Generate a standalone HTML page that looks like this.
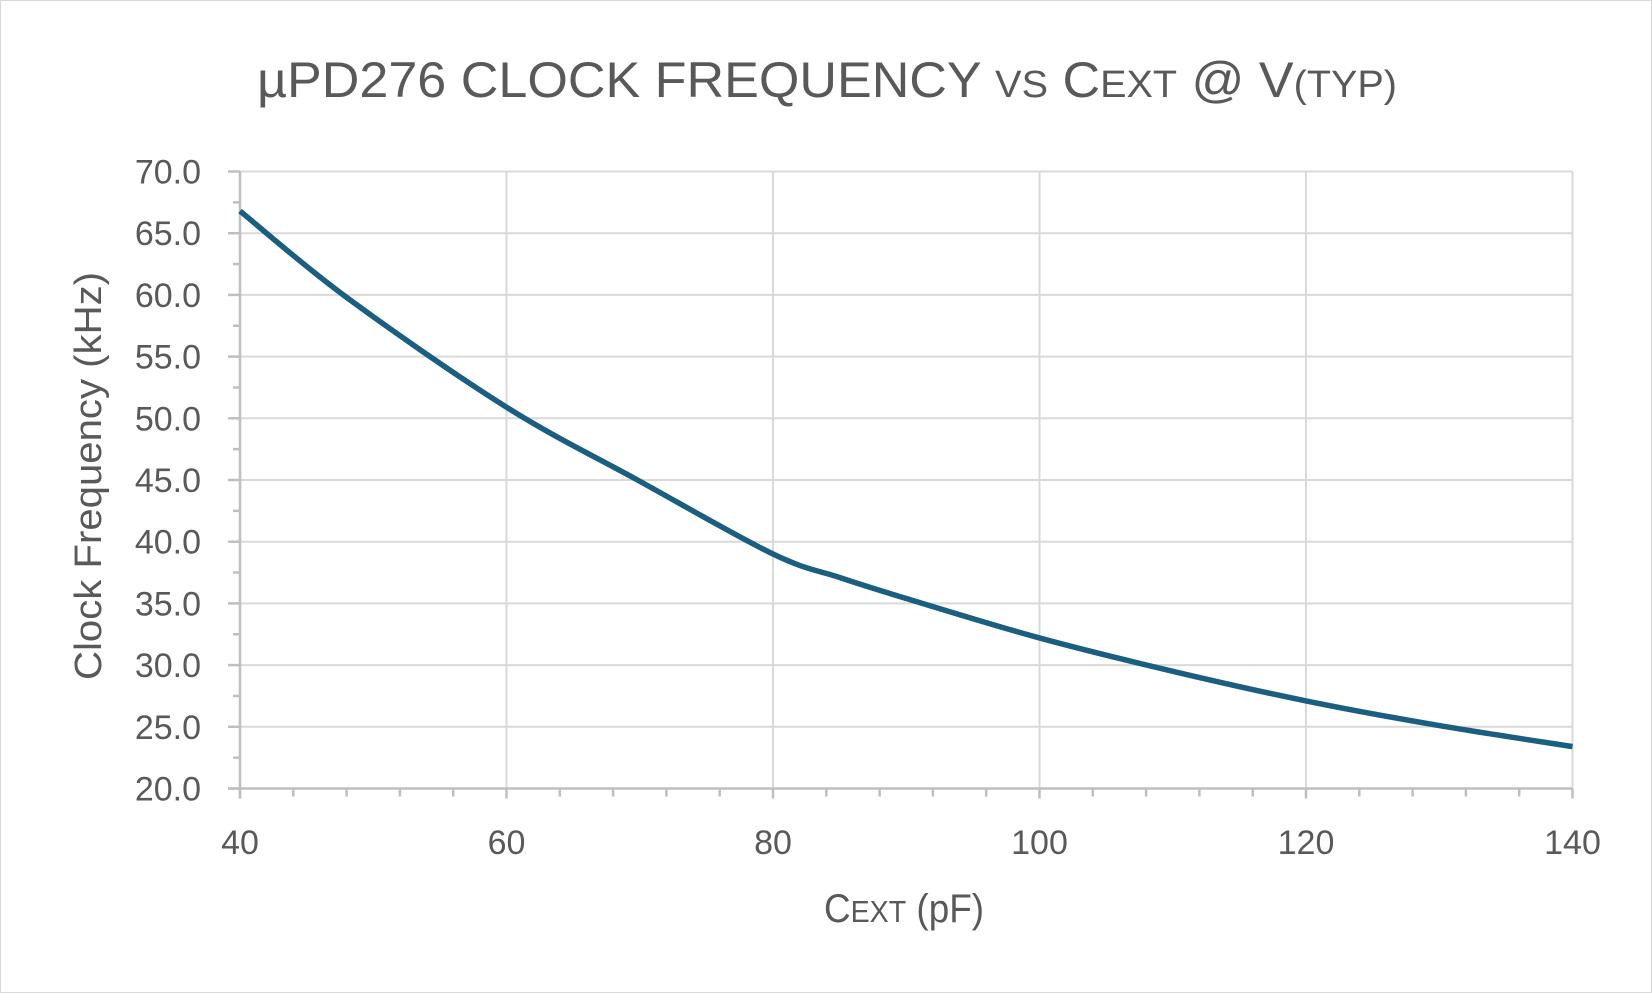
<!DOCTYPE html>
<html><head><meta charset="utf-8"><style>
html,body{margin:0;padding:0;background:#fff}
svg{display:block}
text{font-family:"Liberation Sans",sans-serif;fill:#595959}
</style></head><body>
<svg id="s" width="1652" height="993" viewBox="0 0 1652 993" xmlns="http://www.w3.org/2000/svg">
<rect x="0.5" y="0.5" width="1651" height="992" fill="#fff" stroke="#d9d9d9"/>
<g id="grid" stroke="#d9d9d9" stroke-width="2"></g>
<g id="axes" stroke="#bfbfbf" stroke-width="2.5"></g>
<g id="lbl" font-size="34"></g>
<path id="curve" fill="none" stroke="#1a5e80" stroke-width="5.5" stroke-linecap="butt" stroke-linejoin="round"/>
<text x="827" y="97" font-size="50" text-anchor="middle" textLength="1140" lengthAdjust="spacingAndGlyphs">µPD276 CLOCK FREQUENCY <tspan font-size="38">VS</tspan> C<tspan font-size="38">EXT</tspan> @ V<tspan font-size="38">(TYP)</tspan></text>
<text x="904" y="922" font-size="40" text-anchor="middle" textLength="160" lengthAdjust="spacingAndGlyphs">C<tspan font-size="31">EXT</tspan> (pF)</text>
<text transform="translate(101,476) rotate(-90)" font-size="38" text-anchor="middle" textLength="408" lengthAdjust="spacingAndGlyphs">Clock Frequency (kHz)</text>
</svg>
<script>
const NS="http://www.w3.org/2000/svg";
const X=v=>240+(v-40)*13.325, Y=v=>788.5-(v-20)*12.34;
function el(p,t,a,txt){const e=document.createElementNS(NS,t);for(const k in a)e.setAttribute(k,a[k]);if(txt!==undefined)e.textContent=txt;document.getElementById(p).appendChild(e);}
for(let v=25;v<=70;v+=5){el('grid','line',{x1:X(40),x2:X(140),y1:Y(v),y2:Y(v)});}
for(let c=60;c<=140;c+=20){el('grid','line',{x1:X(c),x2:X(c),y1:Y(20),y2:Y(70)});}
el('axes','line',{x1:X(40),x2:X(40),y1:Y(70),y2:Y(20)+10});
el('axes','line',{x1:X(40)-12,x2:X(140),y1:Y(20),y2:Y(20)});
for(let v=20;v<=70;v+=5){el('axes','line',{x1:X(40)-12,x2:X(40),y1:Y(v),y2:Y(v)});}
for(let v=22.5;v<70;v+=5){el('axes','line',{x1:X(40)-7,x2:X(40),y1:Y(v),y2:Y(v)});}
for(let c=40;c<=140;c+=4){let maj=(c-40)%20==0;el('axes','line',{x1:X(c),x2:X(c),y1:Y(20),y2:Y(20)+(maj?10:8)});}
for(let v=20;v<=70;v+=5){el('lbl','text',{x:201,y:Y(v)+12,'text-anchor':'end'},v.toFixed(1));}
for(let c=40;c<=140;c+=20){el('lbl','text',{x:X(c),y:854,'text-anchor':'middle'},String(c));}
const d=[[40,66.8],[48,59.8],[60,50.9],[70,44.9],[80,39],[85,37.1],[90,35.4],[100,32.2],[110,29.5],[120,27.1],[130,25.1],[140,23.4]];
const p=d.map(q=>[X(q[0]),Y(q[1])]);
let s="M"+p[0][0]+","+p[0][1];
for(let i=0;i<p.length-1;i++){const p0=p[i-1]||p[i],p1=p[i],p2=p[i+1],p3=p[i+2]||p2;
const c1=[p1[0]+(p2[0]-p0[0])/6,p1[1]+(p2[1]-p0[1])/6],c2=[p2[0]-(p3[0]-p1[0])/6,p2[1]-(p3[1]-p1[1])/6];
s+=" C"+c1+" "+c2+" "+p2;}
document.getElementById('curve').setAttribute('d',s);
</script>
</body></html>
